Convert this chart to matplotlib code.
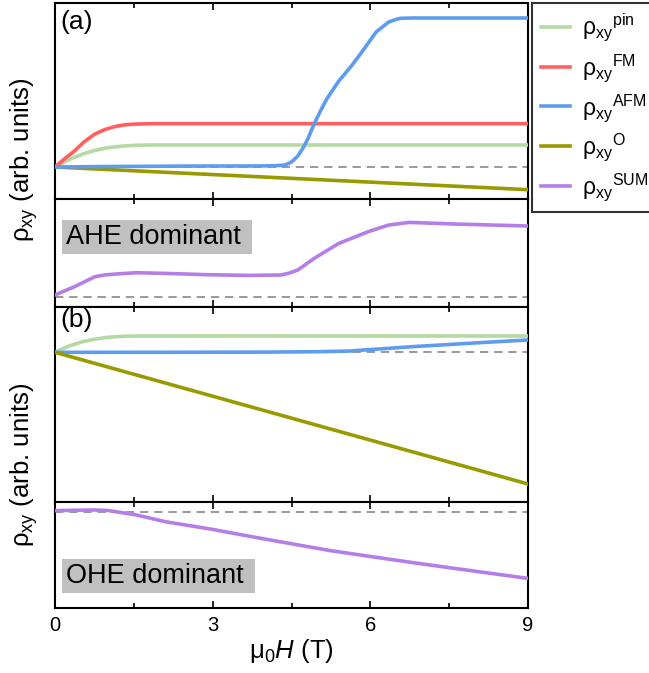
import matplotlib
matplotlib.use("Agg")
import matplotlib.pyplot as plt
from matplotlib.ticker import MultipleLocator

plt.rcParams['font.family'] = ['Liberation Sans', 'DejaVu Sans']
plt.rcParams['mathtext.fontset'] = 'custom'
plt.rcParams['mathtext.rm'] = 'Liberation Sans'
plt.rcParams['mathtext.it'] = 'Liberation Sans:italic'

# ---- data (arb. units) ----
# panel (a): AHE dominant
x_pin_a = [0, 0.25, 0.53, 0.75, 1.0, 1.3, 1.55, 1.8, 9]
y_pin_a = [0, 7, 13, 16.5, 19.3, 21, 21.7, 22, 22]
x_fm_a = [0, 0.2, 0.37, 0.55, 0.76, 0.95, 1.16, 1.35, 1.55, 1.86, 9]
y_fm_a = [0, 9, 16, 25, 33, 37.5, 40.7, 42.3, 43, 43.3, 43.3]
x_afm_a = [0, 1, 2, 3, 3.8, 4.2, 4.38, 4.5, 4.62, 4.72, 4.81, 4.93, 5.05,
           5.17, 5.4, 5.64, 5.88, 6.11, 6.35, 6.5, 6.58, 6.82, 9]
y_afm_a = [0, 0.5, 0.8, 1, 1, 1.3, 2, 5, 11, 19, 28, 43, 56,
           68, 86, 101, 118, 135, 145, 147.8, 148.7, 149, 149]
x_o_a = [0, 9]
y_o_a = [0, -22.7]
x_sum_a = [0, 0.37, 0.76, 0.95, 1.16, 1.55, 2.1, 2.89, 3.67, 4.3, 4.45, 4.62,
           4.93, 5.4, 5.96, 6.35, 6.74, 7.6, 9]
y_sum_a = [1.7, 10, 20, 21.8, 22.7, 24, 23.3, 22, 21.3, 21.7, 23.5, 26.7,
           38.3, 53.3, 65, 71.7, 74.3, 72.7, 70.7]

# panel (b): OHE dominant
x_pin_b = [0, 0.25, 0.53, 0.75, 1.0, 1.3, 1.55, 9]
y_pin_b = [0, 6, 10.7, 13, 15, 16, 16.3, 16.3]
x_afm_b = [0, 2, 4, 5, 5.64, 5.88, 6.3, 6.82, 7.5, 8.2, 9]
y_afm_b = [0, 0, 0.2, 0.6, 1.3, 2.3, 3.8, 5.7, 7.8, 10, 12.3]
x_o_b = [0, 9]
y_o_b = [0, -131.7]
x_sum_b = [0, 0.4, 0.76, 1.0, 1.16, 1.55, 2.1, 3, 3.67, 4.46, 5.25, 6.03,
           6.82, 7.6, 9]
y_sum_b = [1, 1.5, 1.7, 1.2, 0, -3.3, -10, -17.7, -24.3, -31.7, -39, -45,
           -51, -56.7, -66.7]

labels = ['pin', 'FM', 'AFM', 'O', 'SUM']
colors = {'pin': '#b4d9a2', 'FM': '#ff5f5f', 'AFM': '#5e9cf0',
          'O': '#999900', 'SUM': '#b57ee6'}
lw = 2.6

fig = plt.figure(figsize=(6.49, 6.73), dpi=100)
W, H = 649.0, 673.0
left, width = 55 / W, 473 / W


def make_ax(top_px, bot_px):
    return fig.add_axes([left, 1 - bot_px / H, width, (bot_px - top_px) / H])


ax1 = make_ax(3, 199)
ax2 = make_ax(199, 307)
ax3 = make_ax(307, 502)
ax4 = make_ax(502, 608)


def zero_line(ax):
    ax.axhline(0, color='#888888', lw=1.2, ls=(0, (5, 3.5)), zorder=1)


# (a)
zero_line(ax1)
l_pin, = ax1.plot(x_pin_a, y_pin_a, color=colors['pin'], lw=lw, zorder=3)
l_fm, = ax1.plot(x_fm_a, y_fm_a, color=colors['FM'], lw=lw, zorder=3)
l_afm, = ax1.plot(x_afm_a, y_afm_a, color=colors['AFM'], lw=lw, zorder=4)
l_o, = ax1.plot(x_o_a, y_o_a, color=colors['O'], lw=lw, zorder=3)
ax1.set_ylim(-32, 164)

zero_line(ax2)
l_sum, = ax2.plot(x_sum_a, y_sum_a, color=colors['SUM'], lw=lw, zorder=3)
ax2.set_ylim(-10.3, 97.7)

# (b)
zero_line(ax3)
ax3.plot(x_pin_b, y_pin_b, color=colors['pin'], lw=lw, zorder=3)
ax3.plot(x_afm_b, y_afm_b, color=colors['AFM'], lw=lw, zorder=3)
ax3.plot(x_o_b, y_o_b, color=colors['O'], lw=lw, zorder=3)
ax3.set_ylim(-149.7, 45.3)

zero_line(ax4)
ax4.plot(x_sum_b, y_sum_b, color=colors['SUM'], lw=lw, zorder=3)
ax4.set_ylim(-96.3, 9.7)

for ax in (ax1, ax2, ax3, ax4):
    ax.set_xlim(0, 9)
    ax.xaxis.set_major_locator(MultipleLocator(3))
    ax.xaxis.set_minor_locator(MultipleLocator(1.5))
    ax.tick_params(axis='x', which='both', direction='in', top=True,
                   bottom=True, labelbottom=False, width=1.2)
    ax.tick_params(axis='x', which='major', length=5)
    ax.tick_params(axis='x', which='minor', length=3.5)
    ax.tick_params(axis='y', left=False, labelleft=False)
    for s in ax.spines.values():
        s.set_linewidth(1.5)

ax4.tick_params(axis='x', labelbottom=True, labelsize=14.5, pad=6)
ax4.set_xlabel('μ$_\\mathrm{0}$$\\mathit{H}$ (T)', fontsize=18.5, labelpad=1)

ax1.text(0.012, 0.965, '(a)', transform=ax1.transAxes, fontsize=19,
         va='top', ha='left')
ax3.text(0.012, 0.995, '(b)', transform=ax3.transAxes, fontsize=19,
         va='top', ha='left')

box = dict(boxstyle='square,pad=0.15', facecolor='#c0c0c0', edgecolor='none')
ax2.text(0.023, 0.648, 'AHE dominant ', transform=ax2.transAxes,
         fontsize=19.5, va='center', ha='left', bbox=box)
ax4.text(0.023, 0.30, 'OHE dominant ', transform=ax4.transAxes,
         fontsize=19.5, va='center', ha='left', bbox=box)

ylab = 'ρ$_\\mathrm{xy}$ (arb. units)'
fig.text(24 / W, 1 - 160 / H, ylab, rotation=90, fontsize=18.5,
         ha='center', va='center')
fig.text(24 / W, 1 - 465 / H, ylab, rotation=90, fontsize=18.5,
         ha='center', va='center')

handles = [l_pin, l_fm, l_afm, l_o, l_sum]
leg_labels = ['ρ$_\\mathrm{xy}$$^\\mathrm{%s}$' % s for s in labels]
leg = fig.legend(handles, leg_labels, loc='upper left',
                 bbox_to_anchor=(532 / W, 1 - 3 / H), fontsize=16.5,
                 frameon=True, fancybox=False, handlelength=1.27,
                 handletextpad=0.52, labelspacing=0.35, borderpad=0.4,
                 borderaxespad=0)
leg.get_frame().set_edgecolor('black')
leg.get_frame().set_linewidth(1.5)

fig.savefig('out.png', dpi=100)
